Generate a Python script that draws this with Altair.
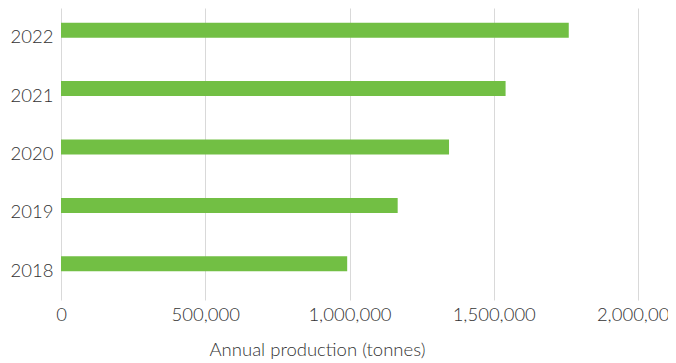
import altair as alt
import pandas as pd

years = ["2022", "2021", "2020", "2019", "2018"]
production = [1760000, 1541000, 1345000, 1167000, 992000]

df = pd.DataFrame({"year": years, "production": production})

FONT = "Lato"
FS = 18.5
chart = (
    alt.Chart(df)
    .mark_bar(color="#72BF44", size=15, yOffset=-7)
    .encode(
        y=alt.Y(
            "year:N",
            sort=years,
            scale=alt.Scale(paddingInner=0, paddingOuter=0),
            axis=alt.Axis(
                title=None,
                ticks=False,
                domain=False,
                labelPadding=8,
                labelFontSize=FS,
                labelFont=FONT,
                labelFontWeight=300,
                labelColor="#333333",
            ),
        ),
        x=alt.X(
            "production:Q",
            scale=alt.Scale(domain=[0, 2000000], nice=False),
            axis=alt.Axis(
                title="Annual production (tonnes)",
                values=[0, 500000, 1000000, 1500000, 2000000],
                format=",d",
                ticks=False,
                domain=False,
                grid=True,
                gridColor="#d9d9d9",
                labelPadding=5,
                labelFontSize=FS,
                labelFont=FONT,
                labelFontWeight=300,
                labelColor="#333333",
                labelFlush=False,
                titleFont=FONT,
                titleFontSize=FS,
                titleFontWeight=300,
                titleColor="#333333",
                titleX=256,
                titleY=55,
                titleBaseline="alphabetic",
            ),
        ),
    )
    .properties(
        width=577,
        height=292,
        autosize=alt.AutoSizeParams(type="none"),
        padding={"left": 53, "top": 0, "right": 30, "bottom": 60},
    )
    .configure_view(stroke=None)
)

chart.save("out.html", embed_options={"renderer": "svg", "actions": False})
